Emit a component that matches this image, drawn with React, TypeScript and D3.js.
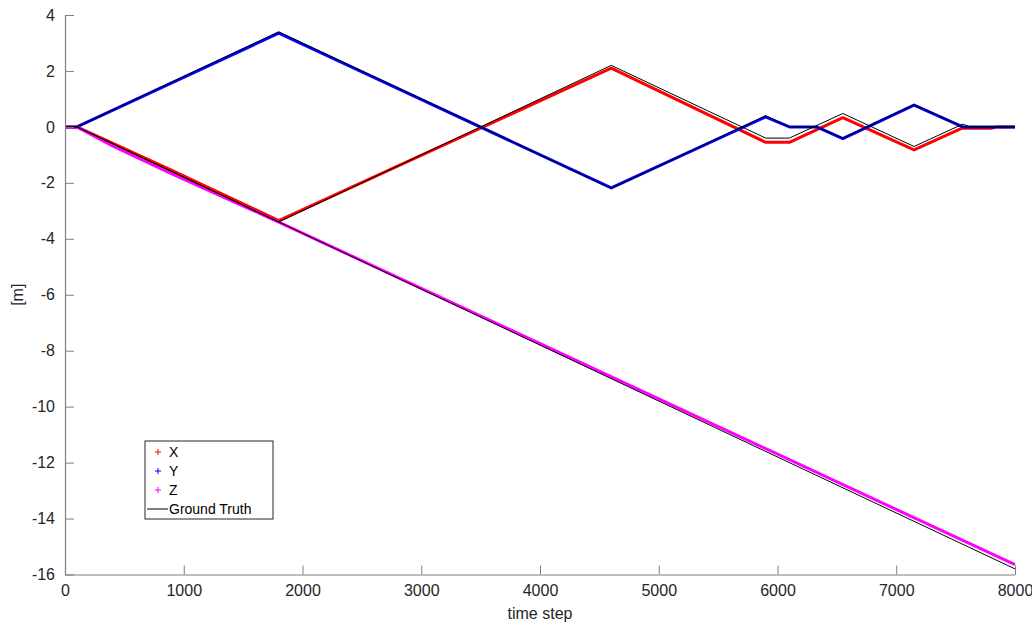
import { useRef, useEffect } from 'react';
import * as d3 from 'd3';

// [time step, value] pairs
const xEst: [number, number][] = [
  [0, 0], [100, 0], [900, -1.55], [1800, -3.35], [4600, 2.1], [5900, -0.55],
  [6100, -0.55], [6550, 0.33], [7150, -0.82], [7550, -0.05], [7800, -0.05],
  [7850, 0], [8000, 0],
];
const yEst: [number, number][] = [
  [0, 0], [100, 0], [1800, 3.35], [4600, -2.18], [5900, 0.36], [6100, 0],
  [6330, 0], [6550, -0.42], [7150, 0.78], [7560, 0], [8000, 0],
];
const zEst: [number, number][] = [
  [0, 0], [100, 0], [400, -0.68], [900, -1.68], [1800, -3.4], [8000, -15.65],
];
const xTruth: [number, number][] = [
  [0, 0], [100, 0], [1800, -3.4], [4600, 2.2], [5900, -0.4], [6100, -0.4],
  [6550, 0.48], [7150, -0.7], [7560, 0.1], [7620, 0], [8000, 0],
];
const yTruth: [number, number][] = [
  [0, 0], [100, 0], [1800, 3.4], [4600, -2.2], [5900, 0.4], [6100, 0],
  [6330, 0], [6550, -0.4], [7150, 0.8], [7560, 0], [8000, 0],
];
const zTruth: [number, number][] = [
  [0, 0], [100, 0], [8000, -15.8],
];

const xTicks = [0, 1000, 2000, 3000, 4000, 5000, 6000, 7000, 8000];
const yTicks = [-16, -14, -12, -10, -8, -6, -4, -2, 0, 2, 4];

const legendNames = ['X', 'Y', 'Z', 'Ground Truth'];
const COLORS = ['#ff0000', '#0000ff', '#ff00ff', '#000000'];
const AXIS_COLOR = '#7f7f7f';
const TEXT_COLOR = '#262626';
const FONT = '"Liberation Sans", Arial, sans-serif';

const W = 1032;
const H = 623;
const margin = { left: 65, right: 17, top: 15, bottom: 48.5 };

const App = () => {
  const svgRef = useRef<SVGSVGElement>(null);

  useEffect(() => {
    const root = d3.select(svgRef.current);
    root.selectAll('*').remove();

    const width = W - margin.left - margin.right;
    const height = H - margin.top - margin.bottom;

    const svg = root.append('g').attr('transform', `translate(${margin.left},${margin.top})`);

    const x = d3.scaleLinear().domain([0, 8000]).range([0, width]);
    const y = d3.scaleLinear().domain([-16, 4]).range([height, 0]);

    const line = d3
      .line<[number, number]>()
      .x((d) => x(d[0]))
      .y((d) => y(d[1]));

    // estimates (dense + markers in the original, drawn as thick lines)
    [xEst, yEst, zEst].forEach((s, i) => {
      svg
        .append('path')
        .datum(s)
        .attr('d', line)
        .attr('fill', 'none')
        .attr('stroke', COLORS[i])
        .attr('stroke-width', 3)
        .attr('stroke-linejoin', 'round');
    });

    // ground truth
    [xTruth, yTruth, zTruth].forEach((s) => {
      svg
        .append('path')
        .datum(s)
        .attr('d', line)
        .attr('fill', 'none')
        .attr('stroke', '#000')
        .attr('stroke-width', 1);
    });

    // axes, ticks inward
    const fmt = (d: d3.NumberValue) => String(d);
    const xAxis = svg
      .append('g')
      .attr('transform', `translate(0,${height})`)
      .call(d3.axisBottom(x).tickValues(xTicks).tickFormat(fmt).tickSizeInner(-9).tickSizeOuter(0).tickPadding(10));
    const yAxis = svg
      .append('g')
      .call(d3.axisLeft(y).tickValues(yTicks).tickFormat(fmt).tickSizeInner(-9).tickSizeOuter(0).tickPadding(10));

    [xAxis, yAxis].forEach((a) => {
      a.selectAll('path').attr('stroke', AXIS_COLOR).attr('stroke-width', 1.2);
      a.selectAll('line').attr('stroke', AXIS_COLOR).attr('stroke-width', 1);
      a.selectAll('text')
        .attr('fill', TEXT_COLOR)
        .style('font-family', FONT)
        .style('font-size', '16px');
    });

    svg
      .append('text')
      .attr('x', width / 2)
      .attr('y', height + 44)
      .attr('text-anchor', 'middle')
      .attr('fill', TEXT_COLOR)
      .style('font-family', FONT)
      .style('font-size', '16px')
      .text('time step');

    svg
      .append('text')
      .attr('transform', `translate(-42,${height / 2}) rotate(-90)`)
      .attr('text-anchor', 'middle')
      .attr('fill', TEXT_COLOR)
      .style('font-family', FONT)
      .style('font-size', '16px')
      .text('[m]');

    // legend
    const lg = root.append('g').attr('transform', 'translate(145,441)');
    lg.append('rect')
      .attr('width', 128)
      .attr('height', 78)
      .attr('fill', '#fff')
      .attr('stroke', '#262626')
      .attr('stroke-width', 1);

    legendNames.forEach((name, i) => {
      const cy = 11 + i * 19;
      if (i < 3) {
        const mx = 13;
        lg.append('path')
          .attr('d', `M${mx - 3},${cy}H${mx + 3}M${mx},${cy - 3}V${cy + 3}`)
          .attr('stroke', COLORS[i])
          .attr('stroke-width', 1);
      } else {
        lg.append('line')
          .attr('x1', 2)
          .attr('x2', 23)
          .attr('y1', cy)
          .attr('y2', cy)
          .attr('stroke', '#000')
          .attr('stroke-width', 1);
      }
      lg.append('text')
        .attr('x', 24)
        .attr('y', cy)
        .attr('dy', '0.35em')
        .attr('fill', '#000')
        .style('font-family', FONT)
        .style('font-size', '14px')
        .text(name);
    });
  }, []);

  return <svg ref={svgRef} width={W} height={H} style={{ position: 'absolute', left: 0, top: 0 }} />;
};

export default App;
